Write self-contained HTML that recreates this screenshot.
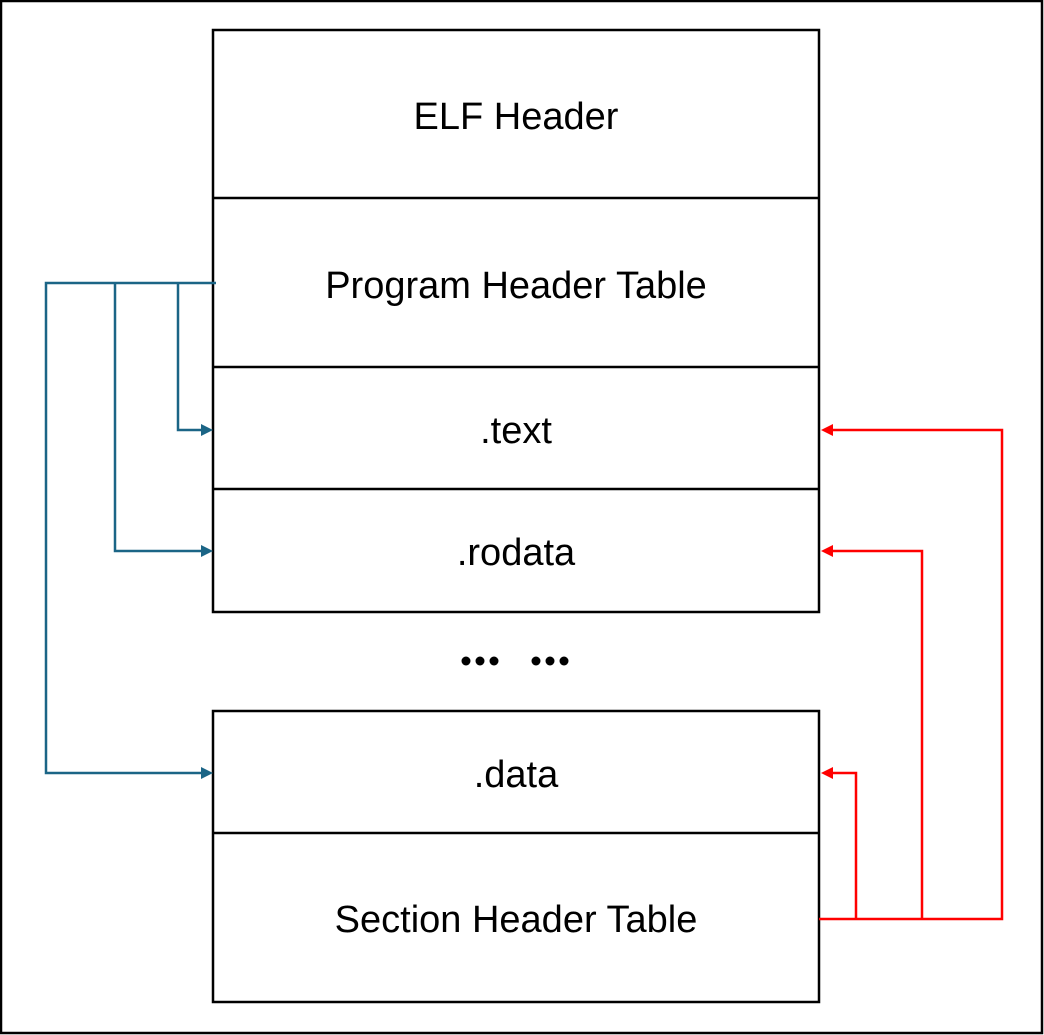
<!DOCTYPE html>
<html><head><style>
html,body{margin:0;padding:0;background:#fff;}
svg{display:block;}
text{font-family:"Liberation Sans",sans-serif;font-size:38px;fill:#000;}
</style></head><body>
<svg width="1044" height="1035" viewBox="0 0 1044 1035">
<rect x="1" y="1" width="1041" height="1032" fill="#fff" stroke="#000" stroke-width="2.5"/>
<g fill="none" stroke="#000" stroke-width="2.5">
<rect x="213" y="30" width="606" height="582"/>
<line x1="213" y1="198" x2="819" y2="198"/>
<line x1="213" y1="367" x2="819" y2="367"/>
<line x1="213" y1="489" x2="819" y2="489"/>
<rect x="213" y="711" width="606" height="291"/>
<line x1="213" y1="833" x2="819" y2="833"/>
</g>
<g text-anchor="middle">
<text x="516" y="129">ELF Header</text>
<text x="516" y="298">Program Header Table</text>
<text x="516" y="443">.text</text>
<text x="516" y="565">.rodata</text>
<text x="516" y="787">.data</text>
<text x="516" y="932">Section Header Table</text>
</g>
<g fill="#000">
<circle cx="466" cy="661" r="4.5"/><circle cx="480" cy="661" r="4.5"/><circle cx="494" cy="661" r="4.5"/>
<circle cx="536" cy="661" r="4.5"/><circle cx="550" cy="661" r="4.5"/><circle cx="564" cy="661" r="4.5"/>
</g>
<g fill="none" stroke="#1b6586" stroke-width="2.5">
<polyline points="216,283 46,283 46,773 203,773"/>
<polyline points="115,283 115,551 203,551"/>
<polyline points="178,283 178,430 203,430"/>
</g>
<g fill="#1b6586">
<polygon points="213,430 201,424 201,436"/>
<polygon points="213,551 201,545 201,557"/>
<polygon points="213,773 201,767 201,779"/>
</g>
<g fill="none" stroke="#ff0000" stroke-width="2.5">
<polyline points="819,919 1002,919 1002,430 831,430"/>
<polyline points="922,919 922,551 831,551"/>
<polyline points="856,919 856,773 831,773"/>
</g>
<g fill="#ff0000">
<polygon points="821,430 833,424 833,436"/>
<polygon points="821,551 833,545 833,557"/>
<polygon points="821,773 833,767 833,779"/>
</g>
</svg>
</body></html>
